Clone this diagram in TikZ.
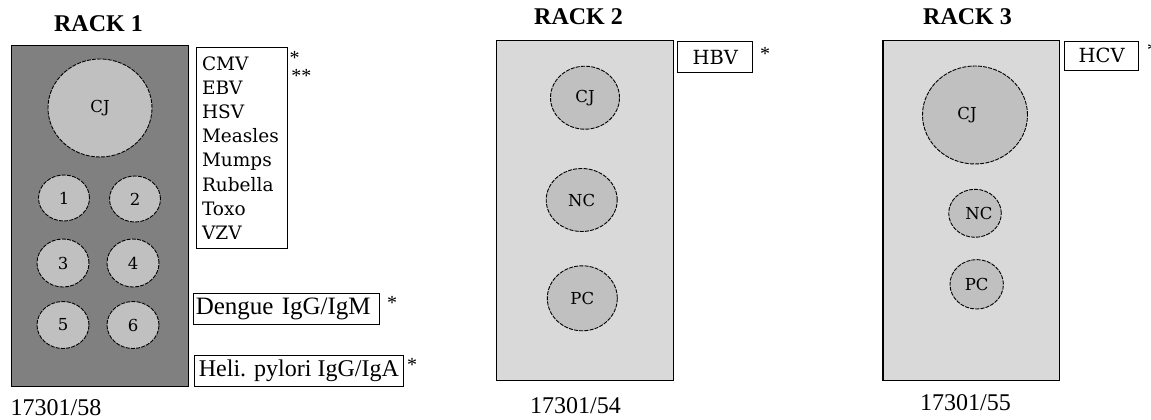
\documentclass[tikz,border=0pt]{standalone}
\usepackage{fontspec}
\setmainfont{Liberation Serif}
\newfontfamily\listfont{DejaVu Serif}
\usetikzlibrary{shapes.geometric}
\definecolor{darkrack}{HTML}{808080}
\definecolor{lightrack}{HTML}{D9D9D9}
\definecolor{wellgray}{HTML}{C0C0C0}
\begin{document}
\begin{tikzpicture}[x=1pt,y=-1pt,
  rackbox/.style={draw=black, line width=1.3pt, anchor=north west, inner sep=0pt},
  well/.style={ellipse, draw=black, dash pattern=on 4pt off 1.2pt, line width=0.9pt,
    fill=wellgray, inner sep=0pt, font=\listfont\fontsize{16.5}{16.5}\selectfont},
  tbox/.style={draw=black, line width=1.1pt, anchor=north west, inner sep=0pt},
  title/.style={anchor=base, inner sep=0pt, font=\bfseries\fontsize{24}{24}\selectfont},
  code/.style={anchor=base, inner sep=0pt, font=\fontsize{24}{24}\selectfont},
  star/.style={anchor=base, inner sep=0pt, font=\fontsize{20}{20}\selectfont}
]
\useasboundingbox (0,0) rectangle (1151,420);
% ---------- RACK 1
\node[title] (t1) at (98.5,32) {RACK 1};
\node[rackbox, fill=darkrack, minimum width=177pt, minimum height=341pt] (r1) at (11,45) {};
\node[well, minimum width=104pt, minimum height=98pt] (cj1) at (100,108) {CJ};
\node[well, minimum width=51pt, minimum height=46pt] (w1) at (64,198) {1};
\node[well, minimum width=51pt, minimum height=46pt] (w2) at (135,199) {2};
\node[well, minimum width=52pt, minimum height=48pt] (w3) at (63,263) {3};
\node[well, minimum width=52pt, minimum height=48pt] (w4) at (133,263) {4};
\node[well, minimum width=52pt, minimum height=47pt] (w5) at (63,325) {5};
\node[well, minimum width=52pt, minimum height=47pt] (w6) at (133,325) {6};
\node[tbox, minimum width=91pt, minimum height=201pt, inner xsep=5.5pt, text width=80pt,
  align=left, font=\listfont\fontsize{18.5}{24.1}\selectfont] (list1) at (196,47)
  {CMV\\EBV\\HSV\\Measles\\Mumps\\Rubella\\Toxo\\VZV};
\node[star] (s1a) at (294.7,64) {*};
\node[star] (s1b) at (301.3,82) {**};
\node[tbox, minimum width=186pt, minimum height=31pt, inner xsep=2.5pt, text width=181pt,
  align=left, font=\fontsize{25}{25}\selectfont] (deng) at (192.7,292.5) {Dengue IgG/IgM};
\node[star] (s1c) at (392,309) {*};
\node[tbox, minimum width=208.7pt, minimum height=30.7pt, inner xsep=0pt,
  font=\fontsize{24}{24}\selectfont] (heli) at (194,355.3) {Heli. pylori IgG/IgA};
\node[star] (s1d) at (412,371) {*};
\node[code] (c1) at (56,415) {17301/58};
% ---------- RACK 2
\node[title] (t2) at (578.5,25) {RACK 2};
\node[rackbox, fill=lightrack, minimum width=176.7pt, minimum height=340pt] (r2) at (496,40) {};
\node[well, minimum width=69pt, minimum height=63pt] (cj2) at (585,97.7) {CJ};
\node[well, minimum width=71pt, minimum height=63pt] (nc2) at (581.7,200) {NC};
\node[well, minimum width=70pt, minimum height=65pt] (pc2) at (582.3,298.3) {PC};
\node[tbox, minimum width=75pt, minimum height=30.7pt, font=\listfont\fontsize{19.5}{19.5}\selectfont] (hbv) at (677.3,41) {HBV};
\node[star] (s2) at (765,60) {*};
\node[code] (c2) at (575.5,413.3) {17301/54};
% ---------- RACK 3
\node[title] (t3) at (967.5,25) {RACK 3};
\node[rackbox, fill=lightrack, minimum width=176.7pt, minimum height=340pt] (r3) at (882.3,40) {};
\node[well, minimum width=105pt, minimum height=98pt] (cj3) at (975,115) {CJ\kern16pt};
\node[well, minimum width=52.6pt, minimum height=48pt] (nc3) at (975,213.3) {\kern8pt NC};
\node[well, minimum width=53.4pt, minimum height=49.4pt] (pc3) at (976.7,284.3) {PC};
\node[tbox, minimum width=74.3pt, minimum height=29.3pt, font=\listfont\fontsize{19.5}{19.5}\selectfont] (hcv) at (1064,40.7) {HCV};
\node[star] (s3) at (1152,57) {*};
\node[code] (c3) at (965.5,410) {17301/55};
\end{tikzpicture}
\end{document}
